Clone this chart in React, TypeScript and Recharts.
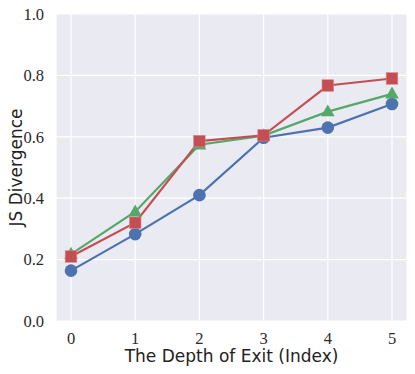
import React from "react";
import { LineChart, Line, XAxis, YAxis, CartesianGrid, Label } from "recharts";

const depths = [0, 1, 2, 3, 4, 5];
const blueValues = [0.164, 0.283, 0.41, 0.597, 0.63, 0.707];
const greenValues = [0.218, 0.356, 0.574, 0.604, 0.682, 0.74];
const redValues = [0.21, 0.32, 0.586, 0.605, 0.767, 0.79];
const yTicks = [0, 0.2, 0.4, 0.6, 0.8, 1.0];

const data = depths.map((d, i) => ({
  depth: d,
  blue: blueValues[i],
  green: greenValues[i],
  red: redValues[i],
}));

const BLUE = "#4C72B0";
const GREEN = "#55A868";
const RED = "#C44E52";

const CircleDot = (props: any) => {
  const { cx, cy, index } = props;
  if (cx == null || cy == null) return null;
  return <circle key={`c${index}`} cx={cx} cy={cy} r={6.3} fill={BLUE} stroke="none" />;
};
const TriDot = (props: any) => {
  const { cx, cy, index } = props;
  if (cx == null || cy == null) return null;
  const s = 7.2;
  const pts = `${cx},${cy - s} ${cx - s * 0.95},${cy + s * 0.65} ${cx + s * 0.95},${cy + s * 0.65}`;
  return <polygon key={`t${index}`} points={pts} fill={GREEN} stroke="none" />;
};
const SquareDot = (props: any) => {
  const { cx, cy, index } = props;
  if (cx == null || cy == null) return null;
  const s = 5.8;
  return <rect key={`s${index}`} x={cx - s} y={cy - s} width={2 * s} height={2 * s} fill={RED} stroke="#D88A8C" strokeWidth={0.6} />;
};

export default function App() {
  return (
    <div style={{ position: "absolute", left: 0, top: 0, width: 415, height: 374 }}>
      <LineChart width={415} height={374} data={data} margin={{ top: 14, right: 8, bottom: 0, left: 0 }}>
        <CartesianGrid fill="#EAEAF2" stroke="#FFFFFF" strokeWidth={1.2} />
        <XAxis
          dataKey="depth"
          type="number"
          domain={[0, 5]}
          ticks={depths}
          padding={{ left: 15, right: 15 }}
          axisLine={false}
          tickLine={false}
          tick={{ fill: "#2a2a2a", fontSize: 16.5, fontFamily: "Liberation Serif" }}
          tickMargin={5}
          height={53}
        >
          <Label value="The Depth of Exit (Index)" position="insideBottom" offset={12} style={{ fill: "#222222", fontSize: 17, fontFamily: "DejaVu Sans", fontWeight: 400 }} />
        </XAxis>
        <YAxis
          type="number"
          domain={[0, 1]}
          ticks={yTicks}
          tickFormatter={(v: number) => v.toFixed(1)}
          axisLine={false}
          tickLine={false}
          tick={{ fill: "#2a2a2a", fontSize: 16.5, fontFamily: "Liberation Serif" }}
          tickMargin={6}
          width={56}
        >
          <Label value="JS Divergence" angle={-90} position="insideLeft" offset={16} style={{ textAnchor: "middle", fill: "#222222", fontSize: 17, fontFamily: "DejaVu Sans" }} />
        </YAxis>
        <Line dataKey="blue" stroke={BLUE} strokeWidth={2.2} dot={CircleDot} activeDot={false} isAnimationActive={false} />
        <Line dataKey="green" stroke={GREEN} strokeWidth={2.2} dot={TriDot} activeDot={false} isAnimationActive={false} />
        <Line dataKey="red" stroke={RED} strokeWidth={2.2} dot={SquareDot} activeDot={false} isAnimationActive={false} />
      </LineChart>
    </div>
  );
}
